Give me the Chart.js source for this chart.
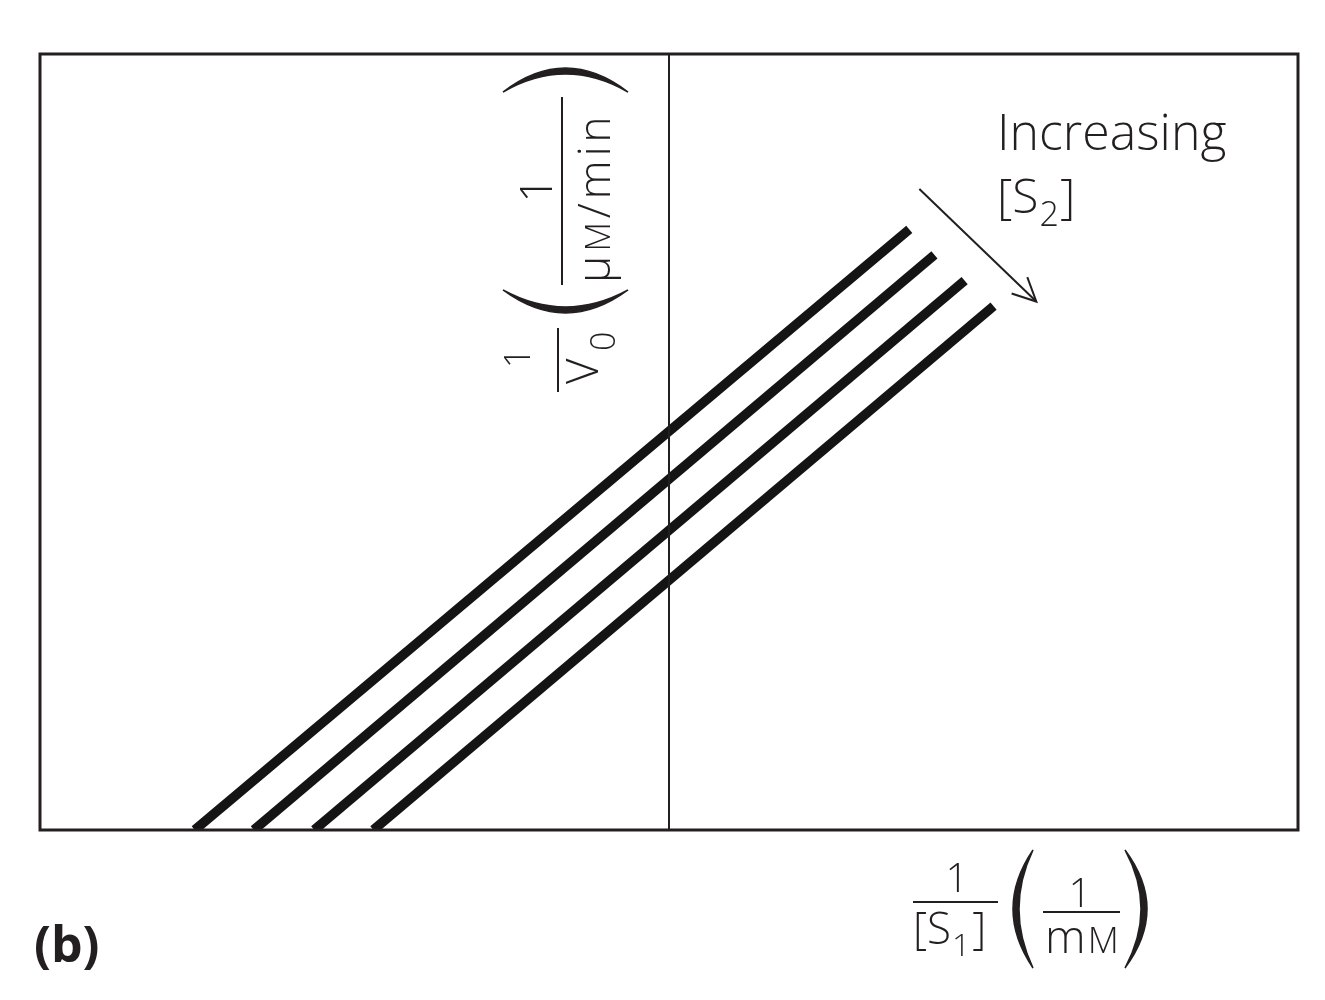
<!DOCTYPE html>
<html>
<head>
<meta charset="utf-8">
<script src="https://cdn.jsdelivr.net/npm/chart.js@4"></script>
<style>
  body { margin: 0; background: #fff; }
  #wrap { width: 1325px; height: 1000px; }
</style>
</head>
<body>
<div id="wrap"><canvas id="chart" width="1325" height="1000"></canvas></div>
<script>
// Lineweaver-Burk style plot, four lines for increasing [S2]
const seriesNames = ['[S2] low', '[S2] mid-low', '[S2] mid-high', '[S2] high'];
const startX = [-3.77, -3.30, -2.82, -2.35];   // where each line meets the x axis (y = 0)
const startY = [0, 0, 0, 0];
const endX = [1.91, 2.11, 2.35, 2.58];
const endY = [7.74, 7.41, 7.08, 6.75];

const xRange = [-5, 5];
const yRange = [0, 10];

// arrow "Increasing [S2]" in data units
const arrowFrom = [1.99, 8.26];
const arrowTo = [2.92, 6.81];

const ink = '#231f20';
const FONT = '"Open Sans", "Noto Sans", sans-serif';

function txt(ctx, s, x, y, size, weight, align) {
    ctx.font = `${weight || 300} ${size}px ${FONT}`;
    ctx.textAlign = align || 'left';
    ctx.textBaseline = 'alphabetic';
    ctx.fillText(s, x, y);
    return ctx.measureText(s).width;
}

function bar(ctx, x1, y1, x2, y2, w) {
    ctx.beginPath();
    ctx.lineWidth = w || 2;
    ctx.moveTo(x1, y1);
    ctx.lineTo(x2, y2);
    ctx.stroke();
}

// crescent-shaped bracket; dir = -1 for '(' and +1 for ')'
function paren(ctx, tipX, top, bottom, bulge, thick, dir) {
    const mid = (top + bottom) / 2;
    ctx.beginPath();
    ctx.moveTo(tipX, top);
    ctx.quadraticCurveTo(tipX + dir * 2 * bulge, mid, tipX, bottom);
    ctx.quadraticCurveTo(tipX + dir * 2 * (bulge - thick), mid, tipX, top);
    ctx.closePath();
    ctx.fill();
    ctx.lineWidth = 1.5;
    ctx.stroke();
}

const frame = {
    id: 'frame',
    afterDatasetsDraw(chart) {
        const { ctx, chartArea: a, scales: { x, y } } = chart;
        ctx.save();
        ctx.strokeStyle = ink;
        ctx.fillStyle = ink;

        // outer box
        ctx.lineWidth = 3;
        ctx.strokeRect(a.left, a.top, a.right - a.left, a.bottom - a.top);

        // y axis at x = 0
        const x0 = x.getPixelForValue(0);
        bar(ctx, x0, a.top, x0, a.bottom, 2);

        // arrow
        const ax1 = x.getPixelForValue(arrowFrom[0]), ay1 = y.getPixelForValue(arrowFrom[1]);
        const ax2 = x.getPixelForValue(arrowTo[0]), ay2 = y.getPixelForValue(arrowTo[1]);
        bar(ctx, ax1, ay1, ax2, ay2, 2);
        const ang = Math.atan2(ay2 - ay1, ax2 - ax1);
        const head = 26, spread = 0.45;
        ctx.beginPath();
        ctx.lineWidth = 2;
        ctx.moveTo(ax2 - head * Math.cos(ang - spread), ay2 - head * Math.sin(ang - spread));
        ctx.lineTo(ax2, ay2);
        ctx.lineTo(ax2 - head * Math.cos(ang + spread), ay2 - head * Math.sin(ang + spread));
        ctx.stroke();

        // "Increasing [S2]"
        txt(ctx, 'Increasing', 997, 150, 50);
        let cx = 997;
        cx += txt(ctx, '[', cx, 213, 48);
        cx += txt(ctx, 'S', cx, 213, 48);
        cx += txt(ctx, '2', cx + 1, 226, 34) + 2;
        txt(ctx, ']', cx, 213, 48);

        // y axis title, rotated
        ctx.save();
        ctx.translate(560, 400);
        ctx.rotate(-Math.PI / 2);
        txt(ctx, '1', 42, -30, 36, 300, 'center');
        bar(ctx, 8, -2, 72, -2, 2);
        txt(ctx, 'V', 16, 38, 44);
        txt(ctx, '0', 49, 55, 34);
        paren(ctx, 110, -57, 68, 23, 6, -1);
        txt(ctx, '1', 210, -8, 44, 300, 'center');
        bar(ctx, 115, 2, 303, 2, 2);
        let u = 117;
        const sp = 4;
        u += txt(ctx, 'μ', u, 50, 46) + sp;
        u += txt(ctx, 'M', u, 50, 34) + sp;
        u += txt(ctx, '/', u, 50, 44) + sp;
        u += txt(ctx, 'm', u, 50, 44) + sp;
        u += txt(ctx, 'i', u, 50, 44) + sp;
        txt(ctx, 'n', u, 50, 44);
        paren(ctx, 308, -57, 68, 24, 6, 1);
        ctx.restore();

        // x axis title
        txt(ctx, '1', 957, 892, 40, 300, 'center');
        bar(ctx, 913, 902, 998, 902, 2);
        let bx = 913;
        bx += txt(ctx, '[', bx, 944, 44);
        bx += txt(ctx, 'S', bx, 944, 44);
        bx += txt(ctx, '1', bx + 1, 956, 32) + 3;
        txt(ctx, ']', bx, 944, 44);
        paren(ctx, 1033, 850, 968, 20, 6, -1);
        txt(ctx, '1', 1080, 907, 40, 300, 'center');
        bar(ctx, 1043, 912, 1120, 912, 2);
        let mx = 1045;
        mx += txt(ctx, 'm', mx, 953, 46) + 2;
        txt(ctx, 'M', mx, 953, 36);
        paren(ctx, 1125, 850, 968, 22, 6, 1);

        // panel tag
        txt(ctx, '(b)', 34, 962, 50, 700);

        ctx.restore();
    }
};

const datasets = seriesNames.map((name, i) => ({
    label: name,
    data: [{ x: startX[i], y: startY[i] }, { x: endX[i], y: endY[i] }],
    showLine: true,
    borderColor: '#141414',
    borderWidth: 9.5,
    borderCapStyle: 'butt',
    pointRadius: 0,
    fill: false
}));

new Chart(document.getElementById('chart'), {
    type: 'scatter',
    data: { datasets: datasets },
    options: {
        responsive: false,
        animation: false,
        layout: { padding: { left: 40, top: 54, right: 27, bottom: 170 } },
        plugins: { legend: { display: false }, tooltip: { enabled: false } },
        scales: {
            x: { type: 'linear', min: xRange[0], max: xRange[1], display: false },
            y: { type: 'linear', min: yRange[0], max: yRange[1], display: false }
        }
    },
    plugins: [frame]
});
</script>
</body>
</html>
